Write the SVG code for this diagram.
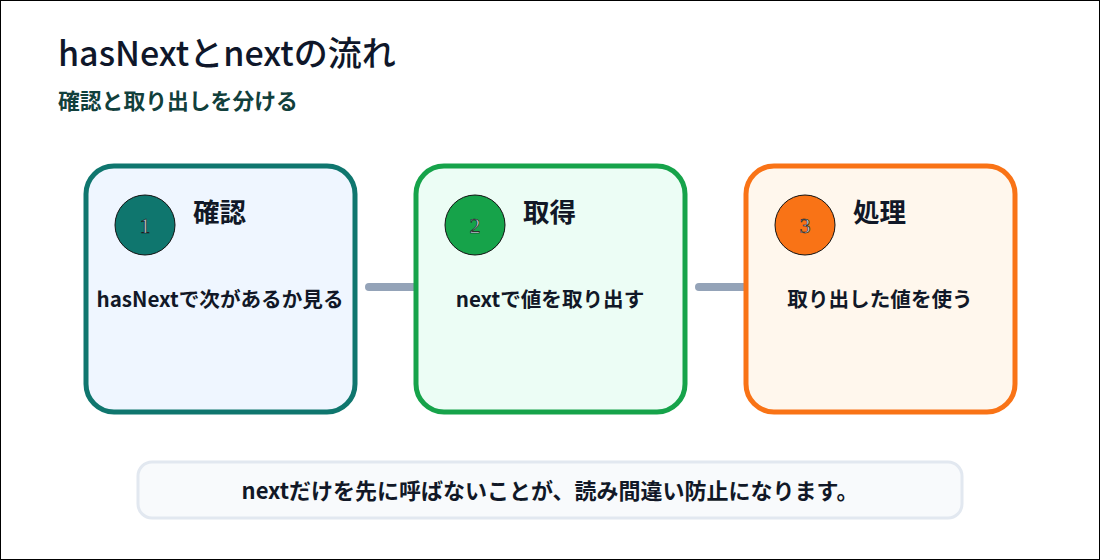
<svg xmlns="http://www.w3.org/2000/svg" width="1100" height="560" viewBox="0 0 1100 560">
<style>
text{font-family:"Noto Sans CJK JP","Noto Sans",sans-serif}
.card{stroke-width:5}
.num{font-family:"Liberation Serif","Noto Sans CJK JP",serif;font-size:22px;fill:#cbd5e1;stroke:#111;stroke-width:0.6;text-anchor:middle}
.ttl{font-size:26.5px;font-weight:700;fill:#111827}
.body{font-size:20.6px;font-weight:700;fill:#111827;text-anchor:middle}
.conn{stroke:#94a3b8;stroke-width:8;stroke-linecap:round}
</style>
<rect x="0.5" y="0.5" width="1099" height="559" fill="#fff" stroke="#000"/>
<text x="58" y="66" font-size="34" font-weight="500" fill="#0f172a">hasNextとnextの流れ</text>
<text x="58" y="109" font-size="21.8" font-weight="700" fill="#11403c">確認と取り出しを分ける</text>
<g id="connectors">
<line class="conn" x1="369" y1="287" x2="414" y2="287"/>
<line class="conn" x1="699" y1="287" x2="744" y2="287"/>
</g>
<g id="n1">
<rect class="card" x="86" y="166" width="269" height="246" rx="28" fill="#eff6ff" stroke="#0f766e"/>
<circle cx="145" cy="225" r="30" fill="#0f766e" stroke="#111" stroke-width="1"/>
<text class="num" x="145" y="233">1</text>
<text class="ttl" x="193" y="222">確認</text>
<text class="body" x="220" y="307">hasNextで次があるか見る</text>
</g>
<g id="n2">
<rect class="card" x="416" y="166" width="269" height="246" rx="28" fill="#ecfdf5" stroke="#16a34a"/>
<circle cx="475" cy="225" r="30" fill="#16a34a" stroke="#111" stroke-width="1"/>
<text class="num" x="475" y="233">2</text>
<text class="ttl" x="523" y="222">取得</text>
<text class="body" x="550" y="307">nextで値を取り出す</text>
</g>
<g id="n3">
<rect class="card" x="746" y="166" width="269" height="246" rx="28" fill="#fff7ed" stroke="#f97316"/>
<circle cx="805" cy="225" r="30" fill="#f97316" stroke="#111" stroke-width="1"/>
<text class="num" x="805" y="233">3</text>
<text class="ttl" x="853" y="222">処理</text>
<text class="body" x="880" y="307">取り出した値を使う</text>
</g>
<g id="note">
<rect x="138" y="462" width="824" height="56" rx="14" fill="#f8fafc" stroke="#e2e8f0" stroke-width="3"/>
<text class="body" x="550" y="499" style="font-size:22px">nextだけを先に呼ばないことが、読み間違い防止になります。</text>
</g>
</svg>
